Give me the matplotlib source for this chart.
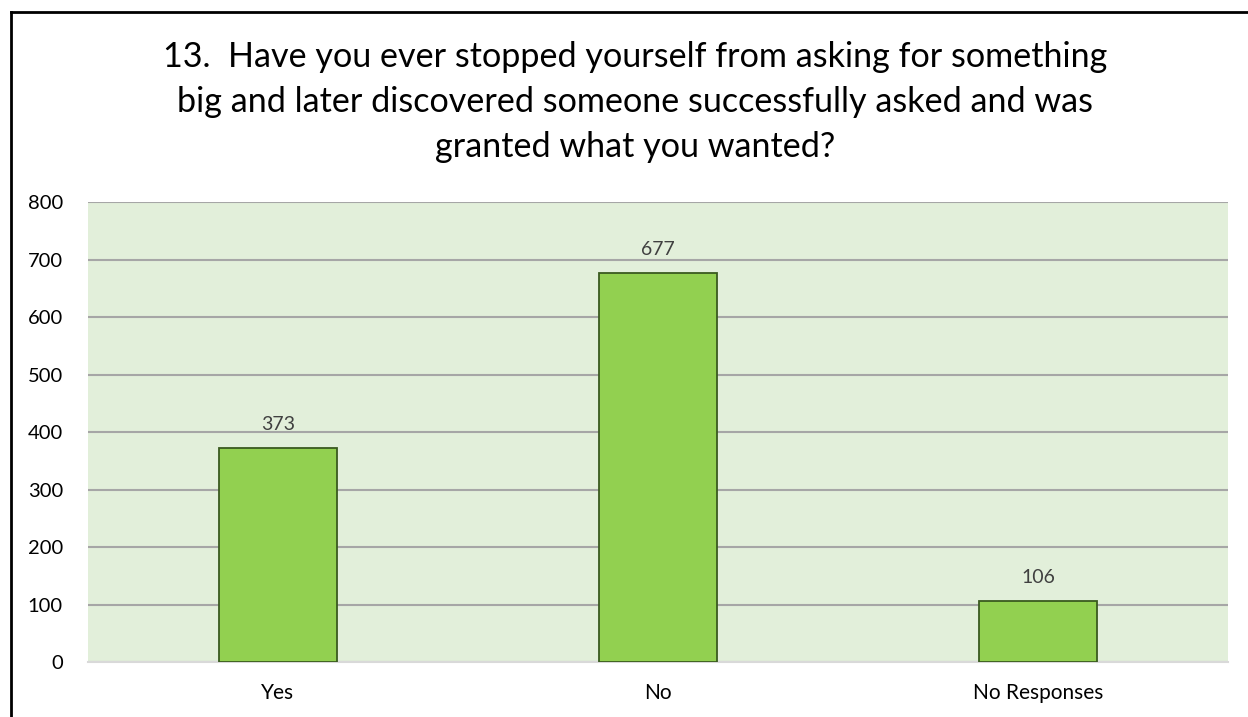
import matplotlib
matplotlib.use("Agg")
import matplotlib.pyplot as plt
from matplotlib.lines import Line2D

categories = ["Yes", "No", "No Responses"]
values = [373, 677, 106]
yticks = [0, 100, 200, 300, 400, 500, 600, 700, 800]
title = ("13.  Have you ever stopped yourself from asking for something\n"
         "big and later discovered someone successfully asked and was\n"
         "granted what you wanted?")

plt.rcParams["font.family"] = ["Lato", "DejaVu Sans"]

fig = plt.figure(figsize=(12.48, 7.17), dpi=100)
ax = fig.add_axes([0.0705, 0.0767, 0.9135, 0.6413])
ax.set_facecolor("#E2EFDA")

x = range(len(categories))
bars = ax.bar(x, values, width=0.313, color="#92D050", edgecolor="#3A5A1F",
              linewidth=1.3, zorder=3)
for rect, v in zip(bars, values):
    ax.text(rect.get_x() + rect.get_width() / 2, v + 26, str(v),
            ha="center", va="bottom", fontsize=14, color="#404040", zorder=4)

ax.set_xlim(-0.5, len(categories) - 0.5)
ax.set_ylim(0, 800)
ax.set_yticks(yticks)
ax.set_yticklabels([str(t) for t in yticks], fontsize=14.5, color="#000000")
ax.set_xticks(list(x))
ax.set_xticklabels(categories, fontsize=15, color="#000000")
ax.tick_params(axis="both", length=0)
ax.tick_params(axis="y", pad=18)
ax.tick_params(axis="x", pad=15)
ax.grid(axis="y", color="#A6A6A6", linewidth=1.5, zorder=1)
for side in ["top", "right", "left"]:
    ax.spines[side].set_visible(False)
ax.spines["bottom"].set_color("#D9D9D9")
ax.spines["bottom"].set_linewidth(1.5)

fig.text(635 / 1248, 1 - 102 / 717, title, ha="center", va="center",
         fontsize=24.6, linespacing=1.5, color="#000000")

# frame lines along the top and left edges
fig.add_artist(Line2D([11 / 1248, 1.0], [1 - 12 / 717, 1 - 12 / 717],
                      transform=fig.transFigure, color="black", linewidth=2))
fig.add_artist(Line2D([11 / 1248, 11 / 1248], [0.0, 1 - 12 / 717],
                      transform=fig.transFigure, color="black", linewidth=2))

fig.savefig("out.png", dpi=100)
